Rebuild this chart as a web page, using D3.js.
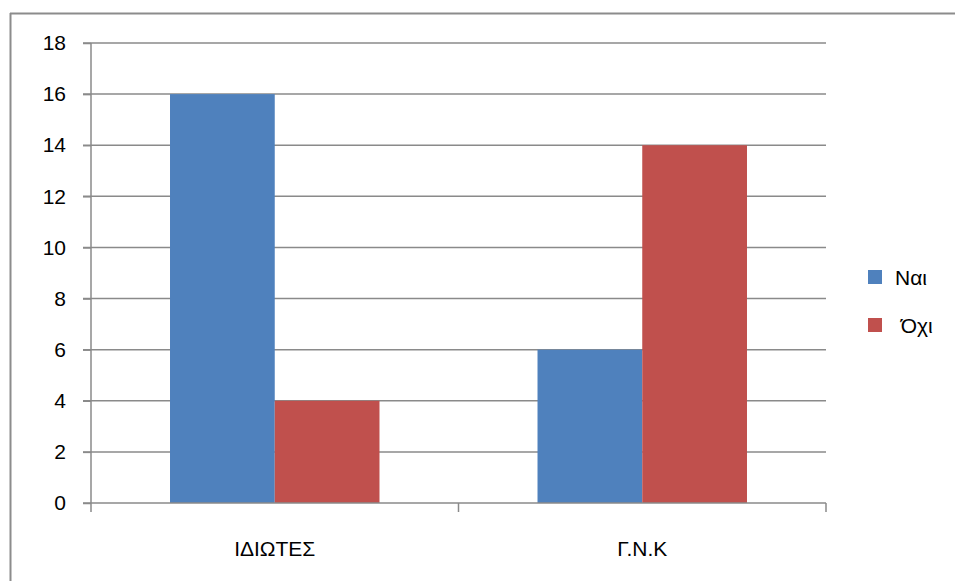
<!DOCTYPE html>
<html>
<head>
<meta charset="utf-8">
<script src="https://cdn.jsdelivr.net/npm/d3@7"></script>
<style>
  html, body { margin: 0; padding: 0; background: #fff; overflow: hidden; }
  svg { display: block; }
  text { font-family: "Liberation Sans", Arial, sans-serif; fill: #000; }
</style>
</head>
<body>
<svg id="chart" width="957" height="581"></svg>
<script>
// Chart data
const categories = ["ΙΔΙΩΤΕΣ", "Γ.Ν.Κ"];
const seriesNames = ["Ναι", " Όχι"];
const seriesColors = ["#4F81BD", "#C0504D"];
const yesValues = [16, 6];
const noValues = [4, 14];
const yTicks = [0, 2, 4, 6, 8, 10, 12, 14, 16, 18];

const svg = d3.select("#chart");
const W = 957, H = 581;
const plot = { left: 91, right: 826, top: 43, bottom: 503 };
const gridColor = "#8a8a8a";
const fontSize = "21px";

// Outer frame: left and top edges only
svg.append("line")
  .attr("x1", 10.5).attr("x2", 10.5).attr("y1", 13).attr("y2", H)
  .attr("stroke", "#8c8c8c").attr("stroke-width", 2);
svg.append("line")
  .attr("x1", 10).attr("x2", W - 2).attr("y1", 13.5).attr("y2", 13.5)
  .attr("stroke", "#8c8c8c").attr("stroke-width", 2);

const y = d3.scaleLinear().domain([0, 18]).range([plot.bottom, plot.top]);
const x0 = d3.scaleBand().domain(categories).range([plot.left, plot.right]).padding(0);
const bw = x0.bandwidth();
const x1 = d3.scaleBand().domain(seriesNames).range([bw * 0.215, bw * 0.785]).padding(0);

// Horizontal gridlines
svg.append("g").selectAll("line")
  .data(yTicks.filter(d => d > 0))
  .join("line")
  .attr("x1", plot.left - 8).attr("x2", plot.right)
  .attr("y1", d => y(d)).attr("y2", d => y(d))
  .attr("stroke", gridColor).attr("stroke-width", 1.5);

// Bars
const rows = categories.map((c, i) => ({ cat: c, vals: [yesValues[i], noValues[i]] }));
svg.append("g").selectAll("g")
  .data(rows)
  .join("g")
  .attr("transform", d => `translate(${x0(d.cat)},0)`)
  .selectAll("rect")
  .data(d => d.vals.map((v, j) => ({ name: seriesNames[j], v, color: seriesColors[j] })))
  .join("rect")
  .attr("x", d => x1(d.name))
  .attr("width", x1.bandwidth())
  .attr("y", d => y(d.v))
  .attr("height", d => y(0) - y(d.v))
  .attr("fill", d => d.color);

// Y axis
const yAxis = d3.axisLeft(y).tickValues(yTicks).tickSize(8).tickPadding(17).tickFormat(d3.format("d"));
const gy = svg.append("g").attr("transform", `translate(${plot.left},0)`).call(yAxis);
gy.attr("font-size", null).attr("font-family", null);
gy.select(".domain").attr("stroke", gridColor).attr("stroke-width", 1.5)
  .attr("d", `M0,${plot.top}V${plot.bottom}`);
gy.selectAll(".tick line").attr("stroke", gridColor).attr("stroke-width", 1.5);
gy.selectAll(".tick text")
  .style("font-size", fontSize).attr("fill", "#000");

// X axis: baseline, boundary ticks and category labels
const gx = svg.append("g").attr("transform", `translate(0,${plot.bottom})`);
gx.append("line")
  .attr("x1", plot.left - 8).attr("x2", plot.right)
  .attr("stroke", gridColor).attr("stroke-width", 1.5);
const bounds = categories.map(c => x0(c)).concat([x0(categories[categories.length - 1]) + bw]);
gx.selectAll(".bt").data(bounds).join("line").attr("class", "bt")
  .attr("x1", d => d).attr("x2", d => d)
  .attr("y1", 0).attr("y2", 9)
  .attr("stroke", gridColor).attr("stroke-width", 1.5);
gx.selectAll(".cl").data(categories).join("text").attr("class", "cl")
  .attr("x", d => x0(d) + bw / 2)
  .attr("y", 53)
  .attr("text-anchor", "middle")
  .style("font-size", fontSize)
  .text(d => d);

// Legend
const legend = svg.append("g").attr("transform", "translate(868,270)");
const items = legend.selectAll("g").data(seriesNames).join("g")
  .attr("transform", (d, i) => `translate(0,${i * 48})`);
items.append("rect").attr("width", 14).attr("height", 14)
  .attr("fill", (d, i) => seriesColors[i]);
items.append("text")
  .attr("x", 27).attr("y", 15)
  .attr("xml:space", "preserve")
  .style("white-space", "pre")
  .style("font-size", fontSize)
  .text(d => d);
</script>
</body>
</html>
